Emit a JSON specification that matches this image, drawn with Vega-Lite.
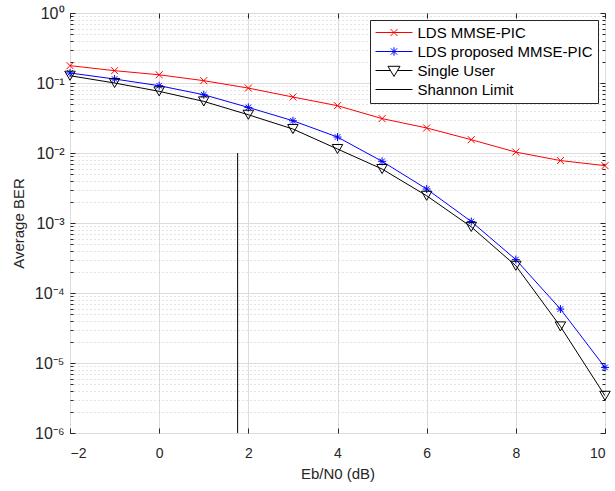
{
  "$schema": "https://vega.github.io/schema/vega-lite/v6.json",
  "width": 535,
  "height": 420,
  "autosize": "none",
  "padding": {"left": 70, "top": 13, "right": 10, "bottom": 58},
  "background": "white",
  "config": {
    "view": {"stroke": "#262626", "strokeWidth": 1},
    "font": "Liberation Sans",
    "axis": {"domain": false, "labelFont": "Liberation Sans", "titleFont": "Liberation Sans", "labelColor": "#262626", "titleColor": "#262626", "tickColor": "#262626", "labelFontSize": 14, "titleFontSize": 15, "titleFontWeight": "normal"},
    "legend": {"labelFont": "Liberation Sans"}
  },
  "data": {"values": [
    {"s": "LDS MMSE-PIC", "x": -2, "y": 0.177},
    {"s": "LDS MMSE-PIC", "x": -1, "y": 0.150},
    {"s": "LDS MMSE-PIC", "x": 0, "y": 0.131},
    {"s": "LDS MMSE-PIC", "x": 1, "y": 0.108},
    {"s": "LDS MMSE-PIC", "x": 2, "y": 0.0846},
    {"s": "LDS MMSE-PIC", "x": 3, "y": 0.063},
    {"s": "LDS MMSE-PIC", "x": 4, "y": 0.0474},
    {"s": "LDS MMSE-PIC", "x": 5, "y": 0.031},
    {"s": "LDS MMSE-PIC", "x": 6, "y": 0.0228},
    {"s": "LDS MMSE-PIC", "x": 7, "y": 0.0155},
    {"s": "LDS MMSE-PIC", "x": 8, "y": 0.0103},
    {"s": "LDS MMSE-PIC", "x": 9, "y": 0.0078},
    {"s": "LDS MMSE-PIC", "x": 10, "y": 0.0066},
    {"s": "LDS proposed MMSE-PIC", "x": -2, "y": 0.139},
    {"s": "LDS proposed MMSE-PIC", "x": -1, "y": 0.114},
    {"s": "LDS proposed MMSE-PIC", "x": 0, "y": 0.0915},
    {"s": "LDS proposed MMSE-PIC", "x": 1, "y": 0.068},
    {"s": "LDS proposed MMSE-PIC", "x": 2, "y": 0.0448},
    {"s": "LDS proposed MMSE-PIC", "x": 3, "y": 0.0289},
    {"s": "LDS proposed MMSE-PIC", "x": 4, "y": 0.0169},
    {"s": "LDS proposed MMSE-PIC", "x": 5, "y": 0.0076},
    {"s": "LDS proposed MMSE-PIC", "x": 6, "y": 0.00306},
    {"s": "LDS proposed MMSE-PIC", "x": 7, "y": 0.00105},
    {"s": "LDS proposed MMSE-PIC", "x": 8, "y": 0.0003},
    {"s": "LDS proposed MMSE-PIC", "x": 9, "y": 5.9e-5},
    {"s": "LDS proposed MMSE-PIC", "x": 10, "y": 8.65e-6},
    {"s": "Single User", "x": -2, "y": 0.127},
    {"s": "Single User", "x": -1, "y": 0.1},
    {"s": "Single User", "x": 0, "y": 0.076},
    {"s": "Single User", "x": 1, "y": 0.0546},
    {"s": "Single User", "x": 2, "y": 0.0352},
    {"s": "Single User", "x": 3, "y": 0.022},
    {"s": "Single User", "x": 4, "y": 0.0114},
    {"s": "Single User", "x": 5, "y": 0.0059},
    {"s": "Single User", "x": 6, "y": 0.00245},
    {"s": "Single User", "x": 7, "y": 0.00088},
    {"s": "Single User", "x": 8, "y": 0.000245},
    {"s": "Single User", "x": 9, "y": 3.33e-5},
    {"s": "Single User", "x": 10, "y": 3.4e-6},
    {"s": "Shannon Limit", "x": 1.76, "y": 0.01},
    {"s": "Shannon Limit", "x": 1.76, "y": 1e-6}
  ]},
  "resolve": {"axis": {"x": "independent", "y": "independent"}},
  "layer": [
    {
      "mark": {"type": "line", "strokeWidth": 1, "clip": true},
      "encoding": {
        "x": {"field": "x", "type": "quantitative", "scale": {"domain": [-2, 10], "nice": false, "zero": false},
          "axis": {"orient": "bottom", "values": [-2, 0, 2, 4, 6, 8, 10], "title": "Eb/N0 (dB)", "grid": true, "gridColor": "#dcdcdc", "gridWidth": 1, "tickSize": -5, "labelPadding": 18, "titlePadding": 6}},
        "y": {"field": "y", "type": "quantitative", "scale": {"type": "log", "domain": [1e-6, 1], "nice": false},
          "axis": {"orient": "left", "title": "Average BER", "titlePadding": 8,
            "values": [1e-6,2e-6,3e-6,4e-6,5e-6,6e-6,7e-6,8e-6,9e-6,1e-5,2e-5,3e-5,4e-5,5e-5,6e-5,7e-5,8e-5,9e-5,1e-4,2e-4,3e-4,4e-4,5e-4,6e-4,7e-4,8e-4,9e-4,0.001,0.002,0.003,0.004,0.005,0.006,0.007,0.008,0.009,0.01,0.02,0.03,0.04,0.05,0.06,0.07,0.08,0.09,0.1,0.2,0.3,0.4,0.5,0.6,0.7,0.8,0.9,1],
            "labelExpr": "abs(log(datum.value)/LN10-round(log(datum.value)/LN10))>0.001 ? '' : ['10⁰','10⁻¹','10⁻²','10⁻³','10⁻⁴','10⁻⁵','10⁻⁶'][-round(log(datum.value)/LN10)]",
            "grid": true,
            "gridColor": {"condition": {"test": "abs(log(datum.value)/LN10-round(log(datum.value)/LN10))<0.001", "value": "#dcdcdc"}, "value": "#c8c8c8"},
            "gridDash": {"condition": {"test": "abs(log(datum.value)/LN10-round(log(datum.value)/LN10))<0.001", "value": []}, "value": [1, 3]},
            "tickSize": {"condition": {"test": "abs(log(datum.value)/LN10-round(log(datum.value)/LN10))<0.001", "value": -5}, "value": -3},
            "labelPadding": 11, "labelFontSize": 16}},
        "stroke": {"field": "s", "type": "nominal", "legend": null,
          "scale": {"range": ["#ff0000", "#0000ff", "#000000", "#000000"]}},
        "detail": {"field": "s"}
      }
    },
    {
      "transform": [{"filter": "datum.s == 'LDS MMSE-PIC'"}],
      "mark": {"type": "point", "shape": "M-1,-1L1,1M-1,1L1,-1", "size": 49, "filled": false, "strokeWidth": 1, "opacity": 1},
      "encoding": {
        "x": {"field": "x", "type": "quantitative", "axis": {"orient": "top", "values": [-2, 0, 2, 4, 6, 8, 10], "labels": false, "title": null, "grid": false, "tickSize": -5}},
        "y": {"field": "y", "type": "quantitative",
          "axis": {"orient": "right", "labels": false, "title": null, "grid": false,
            "values": [1e-6,2e-6,3e-6,4e-6,5e-6,6e-6,7e-6,8e-6,9e-6,1e-5,2e-5,3e-5,4e-5,5e-5,6e-5,7e-5,8e-5,9e-5,1e-4,2e-4,3e-4,4e-4,5e-4,6e-4,7e-4,8e-4,9e-4,0.001,0.002,0.003,0.004,0.005,0.006,0.007,0.008,0.009,0.01,0.02,0.03,0.04,0.05,0.06,0.07,0.08,0.09,0.1,0.2,0.3,0.4,0.5,0.6,0.7,0.8,0.9,1],
            "tickSize": {"condition": {"test": "abs(log(datum.value)/LN10-round(log(datum.value)/LN10))<0.001", "value": -5}, "value": -3}}},
        "stroke": {"field": "s", "type": "nominal", "legend": null}
      }
    },
    {
      "transform": [{"filter": "datum.s == 'LDS proposed MMSE-PIC'"}],
      "mark": {"type": "point", "shape": "M-1,0H1M0,-1V1M-0.7,-0.7L0.7,0.7M-0.7,0.7L0.7,-0.7", "size": 64, "filled": false, "strokeWidth": 1, "opacity": 1},
      "encoding": {
        "x": {"field": "x", "type": "quantitative", "axis": null},
        "y": {"field": "y", "type": "quantitative", "axis": null},
        "stroke": {"field": "s", "type": "nominal", "legend": null}
      }
    },
    {
      "transform": [{"filter": "datum.s == 'Single User'"}],
      "mark": {"type": "point", "shape": "triangle-down", "size": 110, "filled": false, "strokeWidth": 1, "opacity": 1},
      "encoding": {
        "x": {"field": "x", "type": "quantitative", "axis": null},
        "y": {"field": "y", "type": "quantitative", "axis": null},
        "stroke": {"field": "s", "type": "nominal", "legend": null}
      }
    },
    {
      "mark": {"type": "point", "filled": false, "strokeWidth": 1, "opacity": 0},
      "encoding": {
        "x": {"field": "x", "type": "quantitative", "axis": null},
        "y": {"field": "y", "type": "quantitative", "axis": null},
        "shape": {"field": "s", "type": "nominal",
          "scale": {"domain": ["LDS MMSE-PIC", "LDS proposed MMSE-PIC", "Single User", "Shannon Limit"],
            "range": ["M-2.64,0H2.64M-0.5,-0.5L0.5,0.5M-0.5,0.5L0.5,-0.5", "M-2.64,0H2.64M0,-0.6V0.6M-0.6,0H0.6M-0.45,-0.45L0.45,0.45M-0.45,0.45L0.45,-0.45", "M-2.64,0H-0.5M0.5,0H2.64M-0.86,-0.6H0.86L0,0.85Z", "M-2.64,0H2.64"]},
          "legend": {"title": null, "orient": "top-right", "offset": 7, "strokeColor": "#262626", "fillColor": "white", "padding": 5, "labelFontSize": 15, "labelLimit": 400, "labelColor": "#000000", "symbolSize": 196, "symbolStrokeWidth": 1, "symbolOpacity": 1, "symbolOffset": 11.5, "labelOffset": 16, "rowPadding": 3}},
        "color": {"field": "s", "type": "nominal",
          "scale": {"domain": ["LDS MMSE-PIC", "LDS proposed MMSE-PIC", "Single User", "Shannon Limit"], "range": ["#ff0000", "#0000ff", "#000000", "#000000"]}}
      }
    }
  ]
}
